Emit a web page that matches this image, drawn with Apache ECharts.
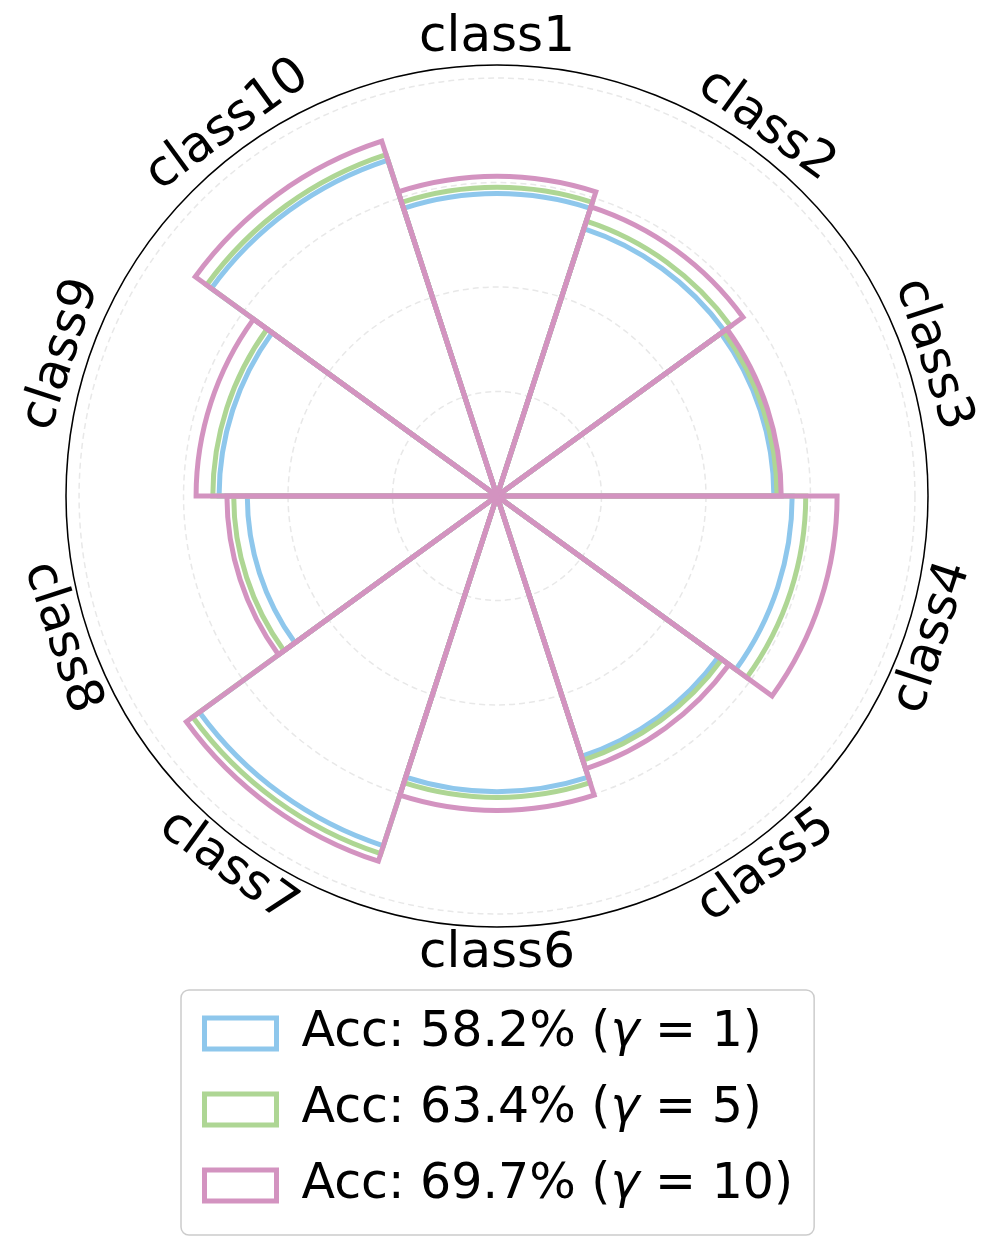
<!DOCTYPE html>
<html>
<head>
<meta charset="utf-8">
<script src="https://cdn.jsdelivr.net/npm/echarts@6/dist/echarts.min.js"></script>
<style>
  html, body { margin: 0; padding: 0; background: #fff; }
  #main { width: 996px; height: 1247px; }
</style>
</head>
<body>
<div id="main"></div>
<script>
var classes = ['class1', 'class2', 'class3', 'class4', 'class5', 'class6', 'class7', 'class8', 'class9', 'class10'];
var seriesNames = ['Acc: 58.2% (γ = 1)', 'Acc: 63.4% (γ = 5)', 'Acc: 69.7% (γ = 10)'];
var colors = ['#8EC7EC', '#AED694', '#D393C0'];
// per-class radius
var gamma1 = [0.579, 0.538, 0.530, 0.565, 0.524, 0.566, 0.704, 0.478, 0.532, 0.676];
var gamma5 = [0.591, 0.553, 0.536, 0.591, 0.532, 0.577, 0.720, 0.504, 0.544, 0.687];
var gamma10 = [0.612, 0.582, 0.544, 0.651, 0.549, 0.602, 0.735, 0.517, 0.576, 0.714];
var values = [gamma1, gamma5, gamma10];

var cx = 497, cy = 496, R = 431;
var font = 'DejaVu Sans';

var myChart = echarts.init(document.getElementById('main'));

// class labels, tangential like matplotlib
var labels = classes.map(function (c, i) {
    var th = i * 36;                 // clockwise from top
    var rad = th * Math.PI / 180;
    var rot = (th > 90 && th < 270) ? 180 - th : -th;
    var r = 458;
    return {
        type: 'text',
        x: cx + r * Math.sin(rad),
        y: cy - r * Math.cos(rad),
        rotation: rot * Math.PI / 180,
        style: {
            text: c,
            fontSize: 50,
            fontFamily: font,
            fill: '#000',
            align: 'center',
            verticalAlign: 'middle'
        },
        z: 10
    };
});

var series = values.map(function (v, i) {
    return {
        name: seriesNames[i],
        type: 'bar',
        coordinateSystem: 'polar',
        data: v,
        barGap: '-100%',
        barCategoryGap: '0%',
        silent: true,
        itemStyle: {
            color: 'rgba(0,0,0,0)',
            borderColor: colors[i],
            borderWidth: 5
        }
    };
});

myChart.setOption({
    backgroundColor: '#fff',
    animation: false,
    polar: {
        center: [cx, cy],
        radius: R
    },
    angleAxis: {
        type: 'category',
        data: classes,
        startAngle: 108,
        clockwise: true,
        axisLine: { show: true, lineStyle: { color: '#000', width: 1.5 } },
        axisTick: { show: false },
        axisLabel: { show: false },
        splitLine: { show: false }
    },
    radiusAxis: {
        type: 'value',
        min: 0,
        max: 0.825,
        interval: 0.2,
        axisLine: { show: false },
        axisTick: { show: false },
        axisLabel: { show: false },
        splitLine: { show: true, lineStyle: { color: '#e8e8e8', width: 1.5, type: [6, 4] } }
    },
    legend: {
        orient: 'vertical',
        left: 181,
        top: 990,
        height: 600,
        padding: [19, 21, 25, 21],
        itemWidth: 72,
        itemHeight: 31,
        itemGap: 27,
        selectedMode: false,
        borderColor: '#cccccc',
        borderWidth: 1.5,
        borderRadius: 8,
        data: seriesNames.map(function (n, i) {
            return {
                name: n,
                icon: 'rect',
                itemStyle: { color: 'rgba(0,0,0,0)', borderColor: colors[i], borderWidth: 5 }
            };
        }),
        formatter: function (name) {
            var parts = name.split('γ');
            return '{sp| }{t|' + parts[0] + '}{g|γ}{t|' + parts[1] + '}';
        },
        textStyle: {
            rich: {
                sp: { width: 20, fontSize: 49, lineHeight: 35 },
                t: { fontSize: 49, fontFamily: font, color: '#000', lineHeight: 35 },
                g: { fontSize: 49, fontFamily: font, fontStyle: 'italic', color: '#000', lineHeight: 35 }
            }
        }
    },
    graphic: labels,
    series: series
});
</script>
</body>
</html>
